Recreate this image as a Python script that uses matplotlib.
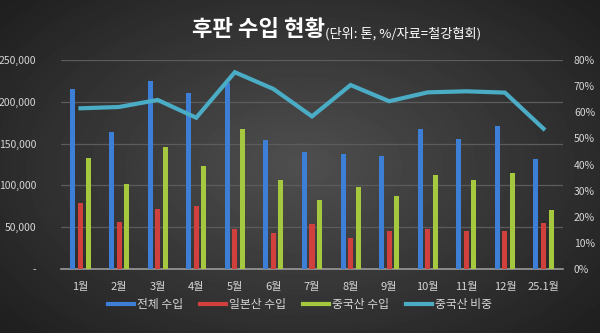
import numpy as np
import matplotlib.pyplot as plt
from matplotlib.lines import Line2D

plt.rcParams['font.family'] = ['Noto Sans CJK KR', 'DejaVu Sans']

months = ['1월', '2월', '3월', '4월', '5월', '6월', '7월', '8월', '9월',
          '10월', '11월', '12월', '25.1월']
total_imports = [215300, 163500, 224900, 210900, 222400, 154300, 140300,
                 137900, 134800, 167100, 155900, 170700, 131600]
japan_imports = [78600, 55800, 71400, 75400, 48200, 42700, 53500,
                 37500, 45500, 48200, 45800, 45800, 55000]
china_imports = [133100, 101700, 145600, 122800, 167500, 106100, 82200,
                 97700, 87000, 112400, 106100, 115200, 70600]
china_share = [61.5, 62.0, 64.7, 57.9, 75.3, 68.9, 58.4,
               70.4, 64.2, 67.6, 68.0, 67.5, 53.7]

c_blue = '#3d7fd6'
c_red = '#d0403c'
c_green = '#a5c83e'
c_teal = '#4bacc6'
c_text = '#d6d6d6'

fig = plt.figure(figsize=(6, 3.33), dpi=100)

# dark radial gradient background
bg = fig.add_axes([0, 0, 1, 1], zorder=-10)
yy, xx = np.mgrid[0:333, 0:600]
r = np.sqrt(((xx - 300) / 420.0) ** 2 + ((yy - 165) / 260.0) ** 2)
shade = np.clip(0.31 - 0.20 * r, 0.10, 0.31)
bg.imshow(shade, cmap='gray', vmin=0, vmax=1, aspect='auto', extent=[0, 1, 0, 1])
bg.axis('off')

ax = fig.add_axes([0.102, 0.192, 0.836, 0.628])
ax.patch.set_alpha(0)
x = np.arange(len(months))
w = 0.13
step = 0.195

ax.bar(x - step, total_imports, w, color=c_blue, zorder=3)
ax.bar(x, japan_imports, w, color=c_red, zorder=3)
ax.bar(x + step, china_imports, w, color=c_green, zorder=3)

ax.set_ylim(0, 250000)
ax.set_xlim(-0.5, len(months) - 0.5)
ax.set_yticks(range(0, 250001, 50000))
ax.set_yticklabels(['-'] + [f'{v:,}' for v in range(50000, 250001, 50000)])
ax.set_xticks(x)
ax.set_xticklabels(months)
ax.grid(axis='y', color='#5c5c5c', linewidth=0.9, zorder=0)
for s in ['top', 'right', 'left']:
    ax.spines[s].set_visible(False)
ax.spines['bottom'].set_color('#9a9a9a')
ax.spines['bottom'].set_linewidth(1.2)
ax.tick_params(axis='both', length=0, colors=c_text, labelsize=7.5)
ax.tick_params(axis='x', pad=9, labelsize=8)
ax.tick_params(axis='y', pad=18)

ax2 = ax.twinx()
ax2.plot(x, china_share, color=c_teal, linewidth=3, solid_joinstyle='miter', zorder=5)
ax2.set_ylim(0, 80)
ax2.set_yticks(range(0, 81, 10))
ax2.set_yticklabels([f'{v}%' for v in range(0, 81, 10)])
ax2.tick_params(axis='y', length=0, colors=c_text, labelsize=7.5, pad=8)
for s in ax2.spines.values():
    s.set_visible(False)

fig.text(0.542, 0.91, '후판 수입 현황', color='white', fontsize=16,
         fontweight='bold', ha='right', va='center')
fig.text(0.542, 0.9, '(단위: 톤, %/자료=철강협회)', color='white', fontsize=9.5,
         ha='left', va='center')

handles = [Line2D([], [], color=c_blue, lw=3),
           Line2D([], [], color=c_red, lw=3),
           Line2D([], [], color=c_green, lw=3),
           Line2D([], [], color=c_teal, lw=3)]
labels = ['전체 수입', '일본산 수입', '중국산 수입', '중국산 비중']
fig.legend(handles, labels, loc='center', bbox_to_anchor=(0.5, 0.085), ncol=4,
           frameon=False, fontsize=8.5, labelcolor=c_text, handlelength=2.2,
           handletextpad=0.3, columnspacing=1.4)

fig.savefig('out.png', dpi=100)
